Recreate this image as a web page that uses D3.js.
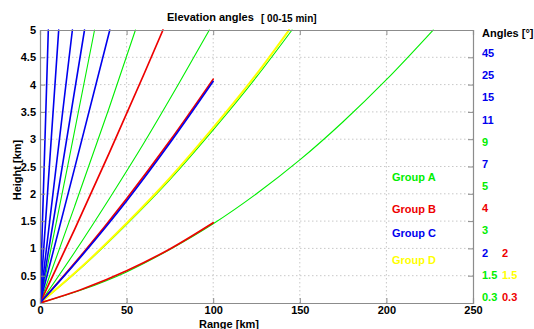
<!DOCTYPE html>
<html>
<head>
<meta charset="utf-8">
<script src="https://cdn.jsdelivr.net/npm/d3@7/dist/d3.min.js"></script>
<style>
  html, body { margin: 0; padding: 0; background: #fff; }
  svg { display: block; font-family: "Liberation Sans", Arial, sans-serif; }
</style>
</head>
<body>
<svg id="chart" width="534" height="329"></svg>
<script>
// ---------------- data ----------------
const xTicks = [0, 50, 100, 150, 200, 250];
const yTicks = [0, 0.5, 1, 1.5, 2, 2.5, 3, 3.5, 4, 4.5, 5];
const groupNames = ["Group A", "Group B", "Group C", "Group D"];

// beam lines: [range km, height km]
const groupA = [ // green
  [[0,0],[15.8,2.48],[31.5,5]],
  [[0,0],[20,1.77],[40,3.58],[55.1,5]],
  [[0,0],[20,0.93],[40,1.91],[60,2.93],[80,4.01],[97.8,5]],
  [[0,0],[25,0.68],[50,1.44],[75,2.26],[100,3.17],[125,4.14],[145.5,5]],
  [[0,0],[25,0.25],[50,0.57],[75,0.98],[100,1.45],[125,2.0],[150,2.62],[175,3.32],[200,4.09],[227,5]]
];
const groupD = [ // yellow
  [[0,0],[25,0.69],[50,1.46],[75,2.29],[100,3.21],[125,4.19],[143.8,5]]
];
const groupB = [ // red
  [[0,0],[20,1.35],[40,2.75],[60,4.19],[71,5]],
  [[0,0],[25,0.92],[50,1.91],[75,2.97],[100,4.10]],
  [[0,0],[25,0.26],[50,0.59],[75,0.99],[100,1.47]]
];
const groupC = [ // blue
  [[0,0],[4.8,5]],
  [[0,0],[10.8,5]],
  [[0,0],[18.7,5]],
  [[0,0],[25.7,5]],
  [[0,0],[20,2.47],[40.3,5]],
  [[0,0],[25,0.90],[50,1.87],[75,2.93],[100,4.06]]
];

// right-hand angle labels: [text, group index, column]
const angleLabels = [
  ["45", 2, 0], ["25", 2, 0], ["15", 2, 0], ["11", 2, 0], ["9", 0, 0],
  ["7", 2, 0], ["5", 0, 0], ["4", 1, 0], ["3", 0, 0],
  ["2", 2, 0], ["2", 1, 1],
  ["1.5", 0, 0], ["1.5", 3, 1],
  ["0.3", 0, 0], ["0.3", 1, 1]
];
const angleRows = [0, 1, 2, 3, 4, 5, 6, 7, 8, 9, 9, 10, 10, 11, 11];

// ---------------- drawing ----------------
const colors = ["#00ee00", "#ee0000", "#0000ee", "#ffff00"];
const svg = d3.select("#chart");
const L = 40, R = 473, T = 30, B = 303;

const x = d3.scaleLinear().domain([0, 250]).range([L, R]);
const y = d3.scaleLinear().domain([0, 5]).range([B, T]);

// grid
const grid = svg.append("g");
grid.selectAll("line.vx").data(xTicks.slice(1, -1)).enter().append("line")
  .attr("x1", d => x(d)).attr("x2", d => x(d)).attr("y1", T).attr("y2", B)
  .attr("stroke", "#c8c8c8").attr("stroke-width", 1).attr("stroke-dasharray", "1.5,2.5");
grid.selectAll("line.hy").data(yTicks.slice(1, -1)).enter().append("line")
  .attr("x1", L).attr("x2", R).attr("y1", d => y(d)).attr("y2", d => y(d))
  .attr("stroke", "#c8c8c8").attr("stroke-width", 1).attr("stroke-dasharray", "1.5,2.5");

// clip
svg.append("clipPath").attr("id", "clip").append("rect")
  .attr("x", L).attr("y", T - 1).attr("width", R - L).attr("height", B - T + 1);

const line = d3.line().x(d => x(d[0])).y(d => y(d[1])).curve(d3.curveMonotoneX);
const plot = svg.append("g").attr("clip-path", "url(#clip)");

function drawGroup(data, color, width) {
  plot.append("g").selectAll("path").data(data).enter().append("path")
    .attr("d", line).attr("fill", "none").attr("stroke", color)
    .attr("stroke-width", width).attr("stroke-linecap", "round");
}
drawGroup(groupA, colors[0], 1.1);
drawGroup(groupD, colors[3], 2);
drawGroup(groupB, colors[1], 1.7);
drawGroup(groupC, colors[2], 1.6);

// axes (box with inward ticks)
const axColor = "#8c8c8c";
const axB = svg.append("g").attr("transform", `translate(0,${B})`)
  .call(d3.axisBottom(x).tickValues(xTicks).tickSize(-5).tickPadding(3).tickFormat(d3.format("d")));
const axT = svg.append("g").attr("transform", `translate(0,${T})`)
  .call(d3.axisTop(x).tickValues(xTicks).tickSize(-5).tickFormat(""));
const axL = svg.append("g").attr("transform", `translate(${L},0)`)
  .call(d3.axisLeft(y).tickValues(yTicks).tickSize(-5).tickPadding(4).tickFormat(d => String(d)));
const axR = svg.append("g").attr("transform", `translate(${R},0)`)
  .call(d3.axisRight(y).tickValues(yTicks).tickSize(-5).tickFormat(""));
[axB, axT, axL, axR].forEach(a => {
  a.select(".domain").attr("stroke", axColor).attr("stroke-width", 1.2);
  a.selectAll(".tick line").attr("stroke", axColor);
  a.selectAll("text").attr("fill", "#000").attr("font-size", 11).attr("font-weight", "bold")
    .attr("font-family", "'Liberation Sans', Arial, sans-serif");
});
axL.selectAll(".tick").filter(d => d === 0 || d === 5).select("line").remove();

// titles
svg.append("text").attr("x", 167).attr("y", 21).attr("font-size", 11).attr("font-weight", "bold")
  .text("Elevation angles");
svg.append("text").attr("x", 261).attr("y", 22).attr("font-size", 10).attr("font-weight", "bold")
  .text("[ 00-15 min]");
svg.append("text").attr("transform", "translate(21,170) rotate(-90)").attr("text-anchor", "middle")
  .attr("font-size", 11).attr("font-weight", "bold").text("Height [km]");
svg.append("text").attr("x", 229).attr("y", 327.5).attr("text-anchor", "middle")
  .attr("font-size", 11).attr("font-weight", "bold").text("Range [km]");
svg.append("text").attr("x", 482).attr("y", 37).attr("font-size", 11).attr("font-weight", "bold")
  .text("Angles [°]");

// angle labels
const rowY = d3.scaleLinear().domain([0, 11]).range([57, 301]);
const colX = [482, 502];
svg.append("g").selectAll("text").data(angleLabels).enter().append("text")
  .attr("x", d => colX[d[2]]).attr("y", (d, i) => rowY(angleRows[i]))
  .attr("font-size", 11).attr("font-weight", "bold").attr("fill", d => colors[d[1]])
  .text(d => d[0]);

// group legend
const legY = [181, 213, 237, 264];
svg.append("g").selectAll("text").data(groupNames).enter().append("text")
  .attr("x", 392).attr("y", (d, i) => legY[i])
  .attr("font-size", 11).attr("font-weight", "bold").attr("fill", (d, i) => colors[i])
  .text(d => d);
</script>
</body>
</html>
